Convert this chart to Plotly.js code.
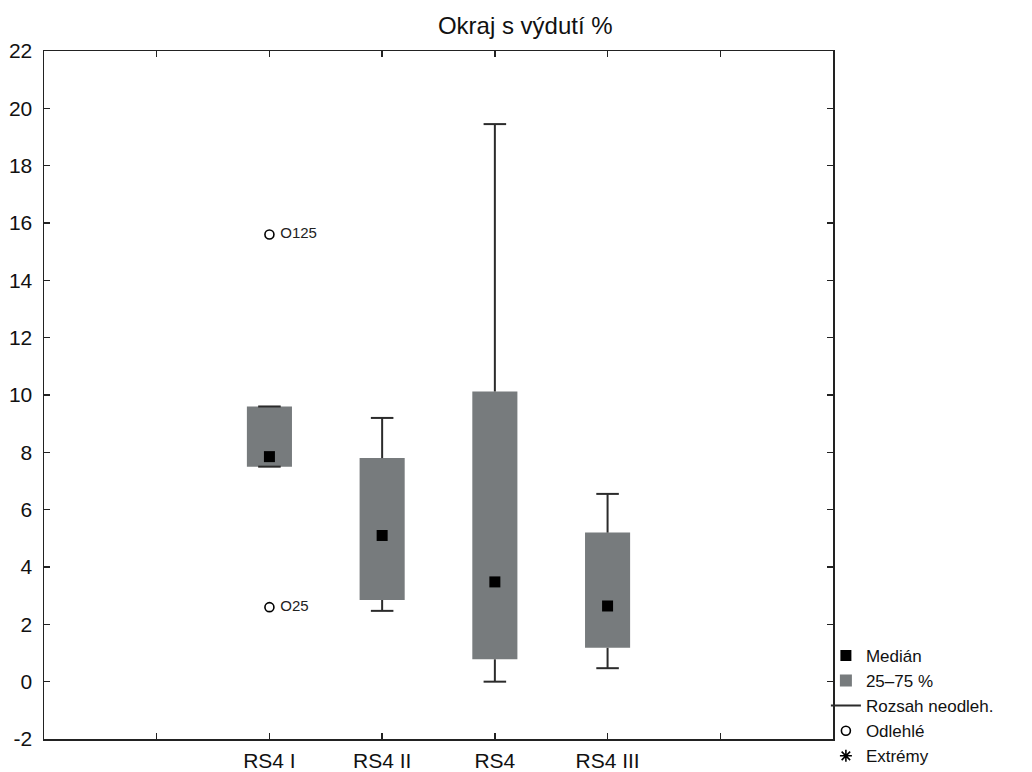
<!DOCTYPE html>
<html>
<head>
<meta charset="utf-8">
<script src="https://cdn.plot.ly/plotly-3.0.1.min.js"></script>
<style>html,body{margin:0;padding:0;background:#fff;}#chart{width:1032px;height:772px;}</style>
</head>
<body>
<div id="chart"></div>
<script>
// Data
const categories = ["RS4 I", "RS4 II", "RS4", "RS4 III"];
const catPos = [1, 2, 3, 4];
const medians = [7.85, 5.1, 3.48, 2.64];
const q1 = [7.5, 2.85, 0.78, 1.18];
const q3 = [9.6, 7.8, 10.12, 5.2];
const lowerWhisker = [7.5, 2.47, 0.0, 0.47];
const upperWhisker = [9.6, 9.2, 19.45, 6.55];
const outlierCat = [1, 1];
const outlierVals = [15.6, 2.6];
const outlierLabels = ["O125", "O25"];
const xTickVals = [0, 1, 2, 3, 4, 5];
const xTickText = ["", "RS4 I", "RS4 II", "RS4", "RS4 III", ""];
const yTickVals = [-2, 0, 2, 4, 6, 8, 10, 12, 14, 16, 18, 20, 22];
const yTickText = ["-2", "0", "2", "4", "6", "8", "10", "12", "14", "16", "18", "20", "22"];

const FONT = "Liberation Sans, Arial, sans-serif";
const boxColor = "#777b7d";
const lineColor = "#2b2b2b";
const capHalf = 0.1;

// whisker paths built from data
const wx = [], wy = [];
for (let i = 0; i < catPos.length; i++) {
  const x = catPos[i];
  wx.push(x, x, null, x - capHalf, x + capHalf, null);
  wy.push(q3[i], upperWhisker[i], null, upperWhisker[i], upperWhisker[i], null);
  wx.push(x, x, null, x - capHalf, x + capHalf, null);
  wy.push(q1[i], lowerWhisker[i], null, lowerWhisker[i], lowerWhisker[i], null);
}

const traces = [
  {
    type: "bar", name: "25–75 %", legendrank: 2,
    x: catPos, base: q1, y: q3.map((v, i) => v - q1[i]),
    width: 0.4, marker: {color: boxColor, line: {width: 0}},
    hoverinfo: "skip"
  },
  {
    type: "scatter", mode: "lines", name: "Rozsah neodleh.", legendrank: 3,
    x: wx, y: wy, line: {color: lineColor, width: 2}, hoverinfo: "skip"
  },
  {
    type: "scatter", mode: "markers", name: "Medián", legendrank: 1,
    x: catPos, y: medians,
    marker: {symbol: "square", size: 11, color: "#000"}
  },
  {
    type: "scatter", mode: "markers+text", name: "Odlehlé", legendrank: 4,
    x: outlierCat, y: outlierVals, text: outlierLabels.map(t => "\u00a0" + t),
    textposition: "middle right",
    textfont: {family: FONT, size: 15, color: "#222"},
    marker: {symbol: "circle-open", size: 9, color: "#000", line: {width: 1.6}}
  },
  {
    type: "scatter", mode: "markers", name: "Extrémy", legendrank: 5,
    x: [null], y: [null],
    marker: {symbol: "asterisk-open", size: 10, color: "#000", line: {width: 1.6, color: "#000"}}
  }
];

const layout = {
  width: 1032, height: 772,
  margin: {l: 44, r: 199, t: 51, b: 33, autoexpand: false},
  paper_bgcolor: "#fff", plot_bgcolor: "#fff",
  font: {family: FONT, size: 21, color: "#111"},
  title: {text: "Okraj s výdutí %", x: 0.509, xanchor: "center", y: 0.967, yanchor: "middle",
          font: {family: FONT, size: 24, color: "#111"}},
  showlegend: true,
  legend: {x: 0.991, xanchor: "left", y: 0.147, yanchor: "top",
           font: {family: FONT, size: 17, color: "#111"},
           bgcolor: "rgba(0,0,0,0)", borderwidth: 0, tracegroupgap: 0},
  xaxis: {
    range: [-1, 6], tickmode: "array", tickvals: xTickVals, ticktext: xTickText,
    ticks: "inside", ticklen: 6, tickwidth: 1.5, tickcolor: "#222",
    showline: true, linecolor: "#222", linewidth: 1.5, mirror: "ticks",
    showgrid: false, zeroline: false, ticklabelstandoff: 2,
    tickfont: {family: FONT, size: 21, color: "#111"}
  },
  yaxis: {
    range: [-2, 22], tickmode: "array", tickvals: yTickVals, ticktext: yTickText,
    ticks: "inside", ticklen: 6, tickwidth: 1.5, tickcolor: "#222",
    showline: true, linecolor: "#222", linewidth: 1.5, mirror: "ticks",
    showgrid: false, zeroline: false, ticklabelstandoff: 6,
    tickfont: {family: FONT, size: 21, color: "#111"}
  },
  barmode: "overlay"
};

Plotly.newPlot("chart", traces, layout, {displayModeBar: false, staticPlot: true});
</script>
</body>
</html>
